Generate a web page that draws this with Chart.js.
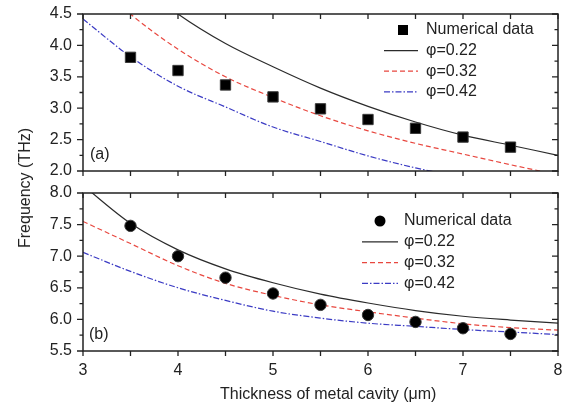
<!DOCTYPE html>
<html>
<head>
<meta charset="utf-8">
<script src="https://cdn.jsdelivr.net/npm/chart.js@4.4.1/dist/chart.umd.min.js"></script>
<style>
  body { margin: 0; background: #fff; }
  #wrap { position: relative; width: 575px; height: 410px; font-family: 'Liberation Sans', Arial, sans-serif; color: #222; }
  #wrap canvas { position: absolute; left: 0; }
  #cTop { top: 0; }
  #cBot { top: 182px; }
  .axisTitle { position: absolute; font-size: 16px; white-space: nowrap; line-height: 1; }
  #yTitle { left: 25px; top: 188px; transform: translate(-50%, -50%) rotate(-90deg); }
  #xTitle { left: 220px; top: 386px; }
</style>
</head>
<body>
<div id="wrap">
  <canvas id="cTop" width="575" height="182"></canvas>
  <canvas id="cBot" width="575" height="228"></canvas>
  <div class="axisTitle" id="yTitle">Frequency (THz)</div>
  <div class="axisTitle" id="xTitle">Thickness of metal cavity (μm)</div>
</div>
<script>
'use strict';

// cavity thickness (um) for the model curves and the simulated points
var thickness = [3, 3.5, 4, 4.5, 5, 5.5, 6, 6.5, 7, 7.5, 8];
var simThickness = [3.5, 4, 4.5, 5, 5.5, 6, 6.5, 7, 7.5];
var xRange = [3, 8];

var simLabel = 'Numerical data';
var phiLabels = ['φ=0.22', 'φ=0.32', 'φ=0.42'];

// panel (a)
var simA = [3.81, 3.60, 3.37, 3.18, 2.99, 2.82, 2.68, 2.54, 2.38];
var a022 = [5.85, 5.10, 4.50, 4.03, 3.66, 3.32, 3.03, 2.78, 2.57, 2.41, 2.25];
var a032 = [5.22, 4.50, 3.94, 3.50, 3.17, 2.88, 2.64, 2.44, 2.27, 2.10, 1.94];
var a042 = [4.42, 3.82, 3.35, 3.02, 2.70, 2.47, 2.24, 2.05, 1.90, 1.76, 1.64];
var yRangeA = [2.0, 4.5];

// panel (b)
var simB = [7.48, 7.00, 6.66, 6.41, 6.23, 6.07, 5.96, 5.86, 5.77];
var b022 = [8.12, 7.52, 7.10, 6.80, 6.58, 6.40, 6.26, 6.14, 6.05, 5.99, 5.94];
var b032 = [7.55, 7.20, 6.85, 6.57, 6.38, 6.23, 6.12, 6.02, 5.93, 5.87, 5.83];
var b042 = [7.06, 6.76, 6.50, 6.30, 6.13, 6.02, 5.94, 5.89, 5.84, 5.80, 5.76];
var yRangeB = [5.5, 8.0];

var FONT = '"Liberation Sans", Arial, sans-serif';
var INK = '#222';

function pairs(xs, ys) {
    return xs.map(function (x, i) { return { x: x, y: ys[i] }; });
}

// box around the plot area, ticks out on left/bottom and in on top/right
var frameTicks = {
    id: 'frameTicks',
    afterDraw: function (chart, args, o) {
        var ctx = chart.ctx, a = chart.chartArea;
        var xs = chart.scales.x, ys = chart.scales.y;
        var l = a.left, r = a.right, t = a.top, b = a.bottom;
        ctx.save();
        ctx.setLineDash([]);
        ctx.strokeStyle = '#222';
        ctx.lineWidth = 1.5;
        ctx.strokeRect(l, t, r - l, b - t);

        ctx.lineWidth = 1.3;
        ctx.beginPath();
        for (var i = 0; i <= 10; i++) {
            var py = ys.getPixelForValue(ys.min + i * 0.25);
            var len = i % 2 === 0 ? 6 : 3.5;
            ctx.moveTo(l, py); ctx.lineTo(l - len, py);
            ctx.moveTo(r, py); ctx.lineTo(r - len, py);
        }
        for (var j = 0; j <= 10; j++) {
            var tx = xs.getPixelForValue(xs.min + j * 0.5);
            ctx.moveTo(tx, t); ctx.lineTo(tx, t + 5);
            ctx.moveTo(tx, b); ctx.lineTo(tx, b + 5);
        }
        ctx.stroke();

        ctx.fillStyle = INK;
        ctx.font = '16px ' + FONT;
        ctx.textBaseline = 'middle';
        ctx.fillText(o.tag, o.tagX, o.tagY);
        ctx.restore();
    }
};

// legend drawn inside the plot area
var inLegend = {
    id: 'inLegend',
    afterDraw: function (chart, args, o) {
        var ctx = chart.ctx;
        ctx.save();
        ctx.font = '16px ' + FONT;
        ctx.textBaseline = 'middle';
        chart.data.datasets.forEach(function (ds, i) {
            var y = o.top + i * o.rowH;
            if (i === 0) {
                ctx.fillStyle = '#000';
                if (ds.pointStyle === 'rect') {
                    ctx.fillRect(o.markX - 5, y - 5, 10, 10);
                } else {
                    ctx.beginPath();
                    ctx.arc(o.markX, y, 5.5, 0, Math.PI * 2);
                    ctx.fill();
                }
            } else {
                ctx.strokeStyle = ds.borderColor;
                ctx.lineWidth = 1.3;
                ctx.setLineDash(ds.borderDash || []);
                ctx.beginPath();
                ctx.moveTo(o.lineX0, y);
                ctx.lineTo(o.lineX1, y);
                ctx.stroke();
                ctx.setLineDash([]);
            }
            ctx.fillStyle = INK;
            ctx.fillText(ds.label, o.textX, y);
        });
        ctx.restore();
    }
};

function curve(label, ys, color, dash) {
    return {
        label: label,
        data: pairs(thickness, ys),
        showLine: true,
        borderColor: color,
        borderWidth: 1.2,
        borderDash: dash,
        pointRadius: 0,
        cubicInterpolationMode: 'monotone'
    };
}

function makePanel(id, p) {
    return new Chart(document.getElementById(id), {
        type: 'scatter',
        data: {
            datasets: [
                {
                    label: simLabel,
                    data: pairs(simThickness, p.sim),
                    pointStyle: p.marker,
                    pointRadius: p.marker === 'rect' ? 7.3 : 5.7,
                    backgroundColor: '#000',
                    borderColor: '#3a3a3a',
                    borderWidth: 1
                },
                curve(phiLabels[0], p.c022, '#2b2b2b', []),
                curve(phiLabels[1], p.c032, '#e8473f', [5, 3]),
                curve(phiLabels[2], p.c042, '#3b3bc4', [6, 2, 1.5, 2])
            ]
        },
        options: {
            responsive: false,
            animation: false,
            devicePixelRatio: 1,
            layout: { padding: { left: 0, right: 17, top: p.padTop, bottom: 0 } },
            scales: {
                x: {
                    type: 'linear',
                    min: xRange[0],
                    max: xRange[1],
                    grid: { display: false, drawTicks: false },
                    border: { display: false },
                    ticks: {
                        display: p.xLabels,
                        stepSize: 1,
                        padding: 10,
                        color: INK,
                        font: { family: FONT, size: 16 }
                    },
                    afterFit: function (s) { s.height = p.xHeight; s.paddingLeft = 0; s.paddingRight = 0; }
                },
                y: {
                    min: p.yRange[0],
                    max: p.yRange[1],
                    grid: { display: false, drawTicks: false },
                    border: { display: false },
                    ticks: {
                        stepSize: 0.5,
                        padding: 11,
                        color: INK,
                        font: { family: FONT, size: 16 },
                        callback: function (v) { return v.toFixed(1); }
                    },
                    afterFit: function (s) { s.width = 83; s.paddingTop = 0; s.paddingBottom = 0; }
                }
            },
            plugins: {
                legend: { display: false },
                tooltip: { enabled: false },
                frameTicks: p.tag,
                inLegend: p.legend
            }
        },
        plugins: [frameTicks, inLegend]
    });
}

makePanel('cTop', {
    sim: simA, c022: a022, c032: a032, c042: a042,
    marker: 'rect', yRange: yRangeA,
    padTop: 14, xHeight: 11, xLabels: false,
    tag: { tag: '(a)', tagX: 90, tagY: 155 },
    legend: { top: 30, rowH: 20.6, markX: 403, lineX0: 384, lineX1: 418, textX: 426 }
});

makePanel('cBot', {
    sim: simB, c022: b022, c032: b032, c042: b042,
    marker: 'circle', yRange: yRangeB,
    padTop: 11, xHeight: 59, xLabels: true,
    tag: { tag: '(b)', tagX: 89, tagY: 153 },
    legend: { top: 39, rowH: 20.8, markX: 380, lineX0: 362, lineX1: 398, textX: 404 }
});
</script>
</body>
</html>
